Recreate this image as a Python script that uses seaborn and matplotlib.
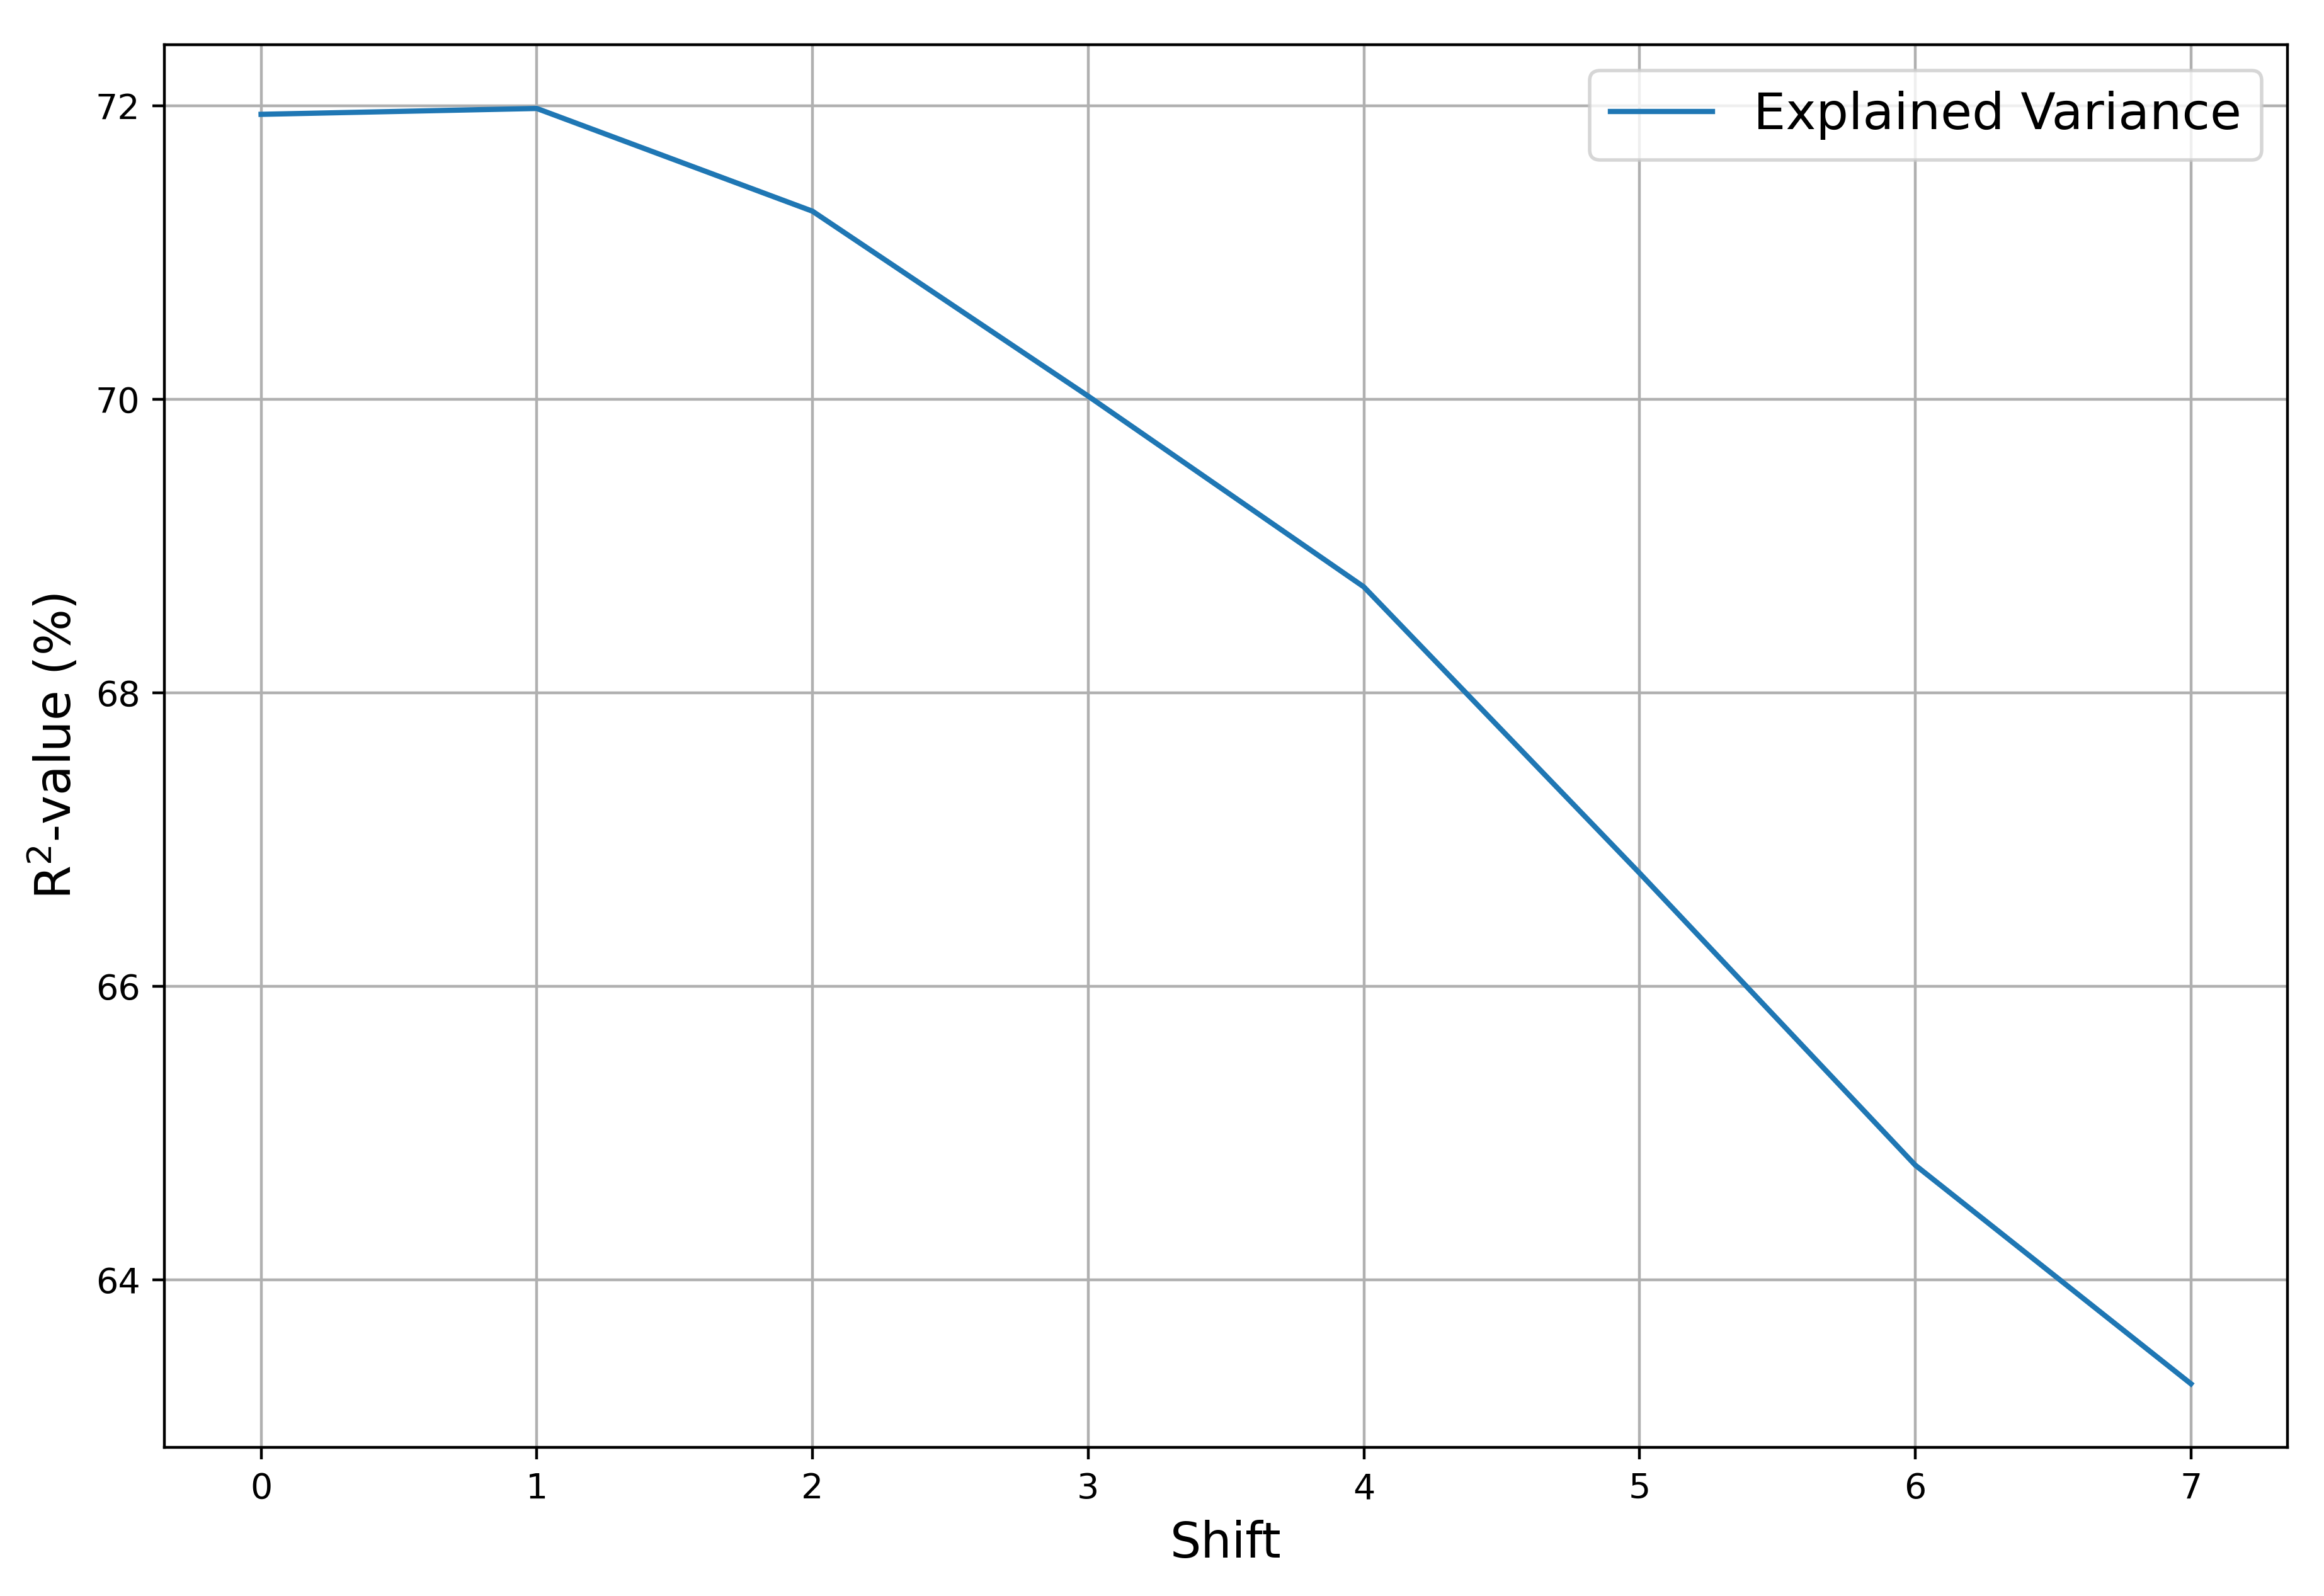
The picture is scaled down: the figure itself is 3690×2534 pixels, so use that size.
import numpy as np
import pandas as pd
import matplotlib
matplotlib.use("Agg")
import matplotlib.pyplot as plt
import seaborn as sns

shifts = [0, 1, 2, 3, 4, 5, 6, 7]
r2_values = [71.94, 71.98, 71.28, 70.02, 68.72, 66.77, 64.78, 63.29]
series_label = "Explained Variance"

df = pd.DataFrame({"Shift": shifts, "R2": r2_values})

fig = plt.figure(figsize=(9.2275, 6.335), dpi=400)
ax = fig.add_axes([0.0708, 0.093, 0.9132, 0.879])

sns.lineplot(data=df, x="Shift", y="R2", ax=ax, label=series_label, color="#1f77b4")

ax.set_xlabel("Shift", fontsize=14)
ax.set_ylabel("R$^2$-value (%)", fontsize=14)
ax.set_xticks(shifts)
ax.set_yticks([64, 66, 68, 70, 72])
ax.grid(True)
ax.legend(loc="upper right", fontsize=14.6)

fig.savefig("out.png", dpi=400)
plt.close()
